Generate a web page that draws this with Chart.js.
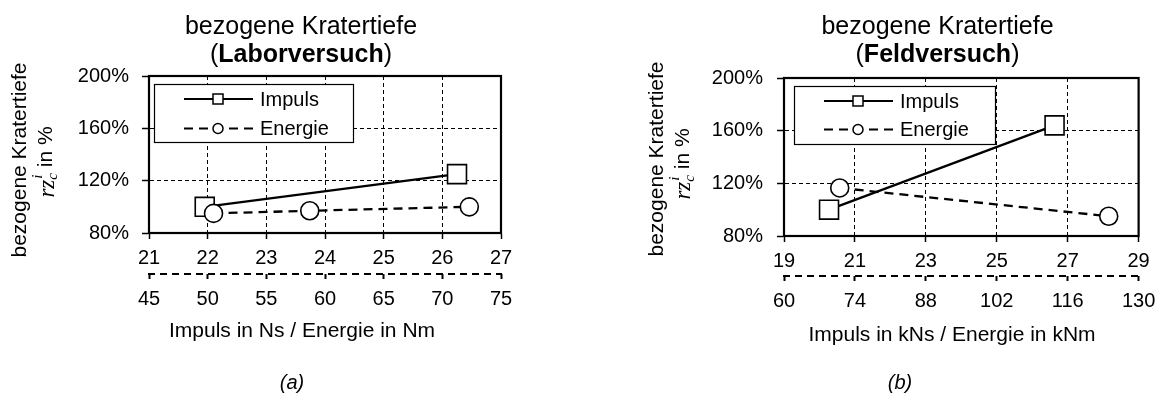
<!DOCTYPE html>
<html><head><meta charset="utf-8">
<script src="https://cdn.jsdelivr.net/npm/chart.js@4.4.0/dist/chart.umd.min.js"></script>
<style>
html,body{margin:0;padding:0;background:#fff;width:1164px;height:406px;overflow:hidden}
.wrap{position:absolute;top:0;height:406px}
canvas{display:block}
</style></head><body>
<div class="wrap" style="left:0;width:582px"><canvas id="cA" width="582" height="406"></canvas></div>
<div class="wrap" style="left:582px;width:582px"><canvas id="cB" width="582" height="406"></canvas></div>
<script>
// ---- data (a) Laborversuch ----
const labImpulsNs    = [21.95, 26.25];
const labImpulsPct   = [100, 125];
const labEnergieNm   = [50.5, 58.7, 72.3];
const labEnergiePct  = [95, 97, 100];
// ---- data (b) Feldversuch ----
const feldImpulsKNs  = [20.27, 26.63];
const feldImpulsPct  = [100, 164];
const feldEnergieKNm = [71, 124.1];
const feldEnergiePct = [116.5, 95];
// ---- tick labels ----
const pctTicks         = [80, 120, 160, 200];
const labImpulsTicks   = [21, 22, 23, 24, 25, 26, 27];
const labEnergieTicks  = [45, 50, 55, 60, 65, 70, 75];
const feldImpulsTicks  = [19, 21, 23, 25, 27, 29];
const feldEnergieTicks = [60, 74, 88, 102, 116, 130];
const seriesNames = ['Impuls', 'Energie'];

const SANS = '"Liberation Sans", Arial, sans-serif';
const SERIF = '"Liberation Serif", "Times New Roman", serif';

function pts(xs, ys) { return xs.map((x, i) => ({x: x, y: ys[i]})); }
function fixedTicks(arr) { return function (s) { s.ticks = arr.map(v => ({value: v})); }; }

const decoPlugin = {
  id: 'deco',
  beforeDatasetsDraw(chart) {
    const a = chart.chartArea, ctx = chart.ctx;
    ctx.save();
    ctx.strokeStyle = '#000'; ctx.lineWidth = 2.2; ctx.setLineDash([]);
    ctx.strokeRect(a.left, a.top, a.right - a.left, a.bottom - a.top);
    // secondary axis dashed line
    const s2 = chart.scales.x2;
    ctx.lineWidth = 2; ctx.setLineDash([7, 5]);
    ctx.beginPath(); ctx.moveTo(s2.left - 1, s2.top); ctx.lineTo(s2.right + 1, s2.top); ctx.stroke();
    ctx.restore();
  },
  afterDatasetsDraw(chart) {
    const c = chart.options.plugins.deco, ctx = chart.ctx, L = c.legend;
    ctx.save();
    ctx.fillStyle = '#fff'; ctx.fillRect(L.x, L.y, L.w, L.h);
    ctx.strokeStyle = '#000'; ctx.lineWidth = 1.2; ctx.setLineDash([]);
    ctx.strokeRect(L.x + 0.5, L.y + 0.5, L.w, L.h);
    chart.data.datasets.forEach((ds, i) => {
      const ry = L.y + L.rows[i];
      const x1 = L.x + 30, x2 = L.x + 99, mx = L.x + 64;
      ctx.strokeStyle = '#000'; ctx.lineWidth = 2; ctx.setLineDash(ds.borderDash || []);
      ctx.beginPath(); ctx.moveTo(x1, ry); ctx.lineTo(x2, ry); ctx.stroke();
      ctx.setLineDash([]); ctx.lineWidth = 1.5; ctx.fillStyle = '#fff';
      ctx.beginPath();
      if (ds.pointStyle === 'rect') ctx.rect(mx - 5, ry - 5, 10, 10);
      else ctx.arc(mx, ry, 5, 0, Math.PI * 2);
      ctx.fill(); ctx.stroke();
      ctx.fillStyle = '#000'; ctx.font = '20px ' + SANS;
      ctx.textAlign = 'left'; ctx.textBaseline = 'middle';
      ctx.fillText(ds.label, L.x + 106, ry + 1);
    });
    ctx.restore();
  },
  afterDraw(chart) {
    const c = chart.options.plugins.deco, ctx = chart.ctx;
    ctx.save();
    ctx.fillStyle = '#000'; ctx.textBaseline = 'middle';
    // title
    ctx.textAlign = 'center'; ctx.font = '25px ' + SANS;
    ctx.fillText('bezogene Kratertiefe', c.titleX, 27);
    ctx.textAlign = 'left';
    const reg = '25px ' + SANS, bold = 'bold 25px ' + SANS;
    ctx.font = reg; const wp = ctx.measureText('(').width, wq = ctx.measureText(')').width;
    ctx.font = bold; const wb = ctx.measureText(c.titleBold).width;
    let x0 = c.titleX - (wp + wb + wq) / 2;
    ctx.font = reg; ctx.fillText('(', x0, 55);
    ctx.font = bold; ctx.fillText(c.titleBold, x0 + wp, 55);
    ctx.font = reg; ctx.fillText(')', x0 + wp + wb, 55);
    // y axis title
    ctx.save();
    ctx.translate(c.yT1[0], c.yT1[1]); ctx.rotate(-Math.PI / 2);
    ctx.textAlign = 'center'; ctx.font = '21px ' + SANS;
    ctx.fillText('bezogene Kratertiefe', 0, 0);
    ctx.restore();
    ctx.save();
    ctx.translate(c.yT2[0], c.yT2[1]); ctx.rotate(-Math.PI / 2);
    ctx.textAlign = 'left';
    const fM = 'italic 23px ' + SERIF, fS = 'italic 15px ' + SERIF, fR = '21px ' + SANS;
    ctx.font = fM; const w1 = ctx.measureText('rz').width;
    ctx.font = fS; const w2 = Math.max(ctx.measureText('c').width, ctx.measureText('i').width);
    ctx.font = fR; const w3 = ctx.measureText(' in %').width;
    let sx = -(w1 + w2 + w3) / 2;
    ctx.font = fM; ctx.fillText('rz', sx, 0);
    ctx.font = fS; ctx.fillText('c', sx + w1, 6); ctx.fillText('i', sx + w1 + 1, -9);
    ctx.font = fR; ctx.fillText(' in %', sx + w1 + w2, -1);
    ctx.restore();
    // x axis title
    ctx.textAlign = 'center'; ctx.font = '21px ' + SANS;
    ctx.fillText(c.xTitle, c.xT[0], c.xT[1]);
    // sub caption
    ctx.font = 'italic 20px ' + SANS;
    ctx.fillText(c.cap, c.capXY[0], c.capXY[1]);
    ctx.restore();
  }
};

function buildChart(id, cfg) {
  const tickFont = {family: SANS, size: 20};
  return new Chart(document.getElementById(id), {
    type: 'line',
    data: {
      datasets: [
        {label: seriesNames[0], data: pts(cfg.impX, cfg.impY), xAxisID: 'x', yAxisID: 'y',
         borderColor: '#000', borderWidth: 2.3, pointStyle: 'rect', pointRadius: 13.4,
         pointBackgroundColor: '#fff', pointBorderColor: '#000', pointBorderWidth: 1.6,
         fill: false, tension: 0, order: 1},
        {label: seriesNames[1], data: pts(cfg.enX, cfg.enY), xAxisID: 'x2', yAxisID: 'y',
         borderColor: '#000', borderWidth: 2.3, borderDash: [9, 6], pointStyle: 'circle', pointRadius: 9,
         pointBackgroundColor: '#fff', pointBorderColor: '#000', pointBorderWidth: 1.6,
         fill: false, tension: 0, order: 0}
      ]
    },
    options: {
      responsive: false, animation: false, devicePixelRatio: 1,
      layout: {padding: {left: 0, right: cfg.padR, top: cfg.top, bottom: cfg.padB}},
      plugins: {legend: {display: false}, tooltip: {enabled: false}, title: {display: false},
        deco: cfg.deco},
      scales: {
        x: {type: 'linear', position: 'bottom', min: cfg.xTicks[0], max: cfg.xTicks[cfg.xTicks.length - 1],
          afterBuildTicks: fixedTicks(cfg.xTicks),
          ticks: {color: '#000', font: tickFont, padding: cfg.xPad, autoSkip: false, maxRotation: 0},
          grid: {color: '#000', lineWidth: 1, tickLength: 6, tickWidth: 1.5, tickColor: '#000'},
          border: {display: true, color: '#000', width: 2, dash: [4, 3]},
          afterFit: s => { s.height = cfg.xH; }},
        x2: {type: 'linear', position: 'bottom', min: cfg.x2Ticks[0], max: cfg.x2Ticks[cfg.x2Ticks.length - 1],
          afterBuildTicks: fixedTicks(cfg.x2Ticks),
          ticks: {color: '#000', font: tickFont, padding: cfg.x2Pad, autoSkip: false, maxRotation: 0},
          grid: {drawOnChartArea: false, color: '#000', tickLength: 5, tickWidth: 2, tickColor: '#000'},
          border: {display: false},
          afterFit: s => { s.height = cfg.x2H; }},
        y: {type: 'linear', position: 'left', min: pctTicks[0], max: pctTicks[pctTicks.length - 1],
          afterBuildTicks: fixedTicks(pctTicks),
          ticks: {color: '#000', font: tickFont, padding: cfg.yPad, callback: v => v + '%'},
          grid: {color: '#000', lineWidth: 1, tickLength: 7, tickWidth: 1.5, tickColor: '#000'},
          border: {display: true, color: '#000', width: 2, dash: [4, 3]},
          afterFit: s => { s.width = cfg.yW; }}
      }
    },
    plugins: [decoPlugin]
  });
}

buildChart('cA', {
  impX: labImpulsNs, impY: labImpulsPct, enX: labEnergieNm, enY: labEnergiePct,
  xTicks: labImpulsTicks, x2Ticks: labEnergieTicks,
  top: 76, padR: 81, padB: 72, yW: 149, xH: 41, x2H: 60,
  xPad: 7, x2Pad: 8, yPad: 13,
  deco: {legend: {x: 154, y: 84, w: 199, h: 58, rows: [15, 44.5]},
    titleX: 301, titleBold: 'Laborversuch', yT1: [20, 160], yT2: [47.5, 162],
    xTitle: 'Impuls in Ns / Energie in Nm', xT: [302, 331], cap: '(a)', capXY: [292, 383]}
});
buildChart('cB', {
  impX: feldImpulsKNs, impY: feldImpulsPct, enX: feldEnergieKNm, enY: feldEnergiePct,
  xTicks: feldImpulsTicks, x2Ticks: feldEnergieTicks,
  top: 78, padR: 25, padB: 70, yW: 202, xH: 40, x2H: 60,
  xPad: 7.5, x2Pad: 8.7, yPad: 14,
  deco: {legend: {x: 212, y: 86, w: 201, h: 58, rows: [15, 43.5]},
    titleX: 355.5, titleBold: 'Feldversuch', yT1: [75, 159], yT2: [102, 164],
    xTitle: 'Impuls in kNs / Energie in kNm', xT: [370, 335], cap: '(b)', capXY: [318, 383]}
});
</script>
</body></html>
